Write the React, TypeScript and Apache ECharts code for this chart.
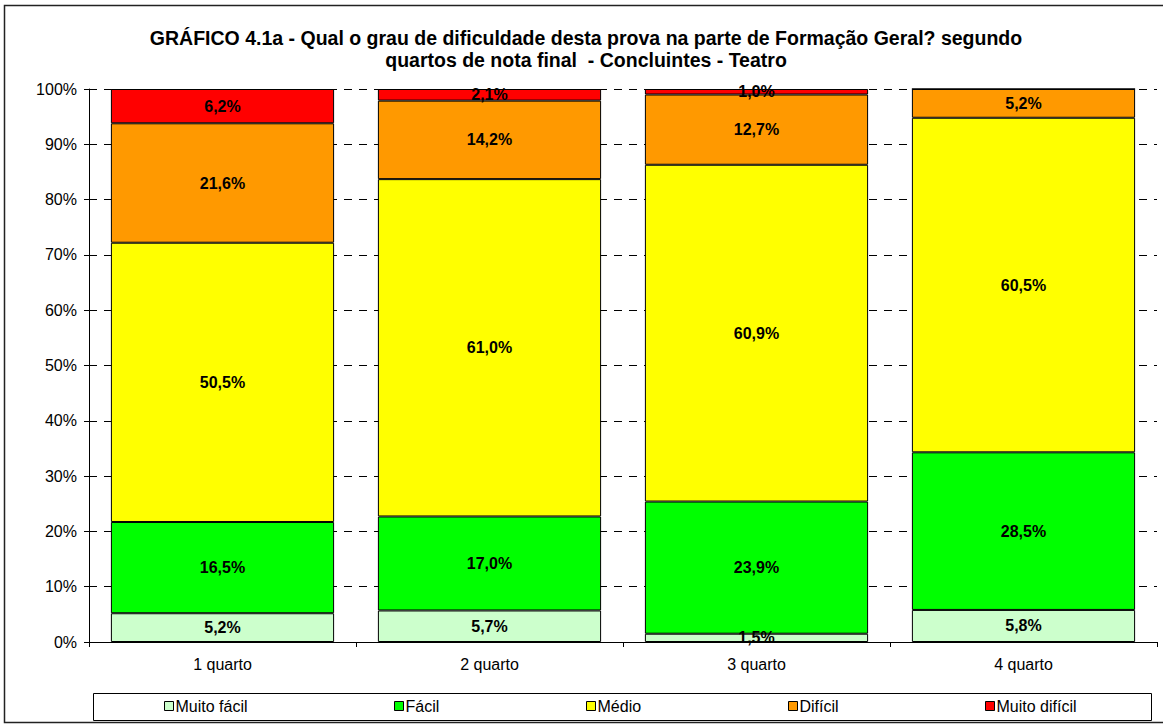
import React, { useEffect, useRef } from "react";
import * as echarts from "echarts";

const categories = ["1 quarto", "2 quarto", "3 quarto", "4 quarto"];
const seriesNames = ["Muito fácil", "Fácil", "Médio", "Difícil", "Muito difícil"];
const muitoFacil = [5.2, 5.7, 1.5, 5.8];
const facil = [16.5, 17.0, 23.9, 28.5];
const medio = [50.5, 61.0, 60.9, 60.5];
const dificil = [21.6, 14.2, 12.7, 5.2];
const muitoDificil = [6.2, 2.1, 1.0, 0];
const yTicks = [0, 10, 20, 30, 40, 50, 60, 70, 80, 90, 100];

const colors = ["#CCFFCC", "#00FF00", "#FFFF00", "#FF9900", "#FF0000"];
const FONT = "'Liberation Sans', Arial, sans-serif";

export default function App() {
  const ref = useRef<HTMLDivElement>(null);
  useEffect(() => {
    if (!ref.current) return;
    const chart = echarts.init(ref.current, null, { renderer: "svg" });
    const values = [muitoFacil, facil, medio, dificil, muitoDificil];
    const legendLefts = [164, 394, 586, 788, 985];
    const option: any = {
      animation: false,
      backgroundColor: "#fff",
      title: {
        text: "GRÁFICO 4.1a - Qual o grau de dificuldade desta prova na parte de Formação Geral? segundo\nquartos de nota final  - Concluintes - Teatro",
        left: 581,
        top: 22,
        textAlign: "center",
        textStyle: { fontFamily: FONT, fontSize: 19.5, fontWeight: "bold", color: "#000", lineHeight: 22 },
      },
      grid: { left: 89, right: 6, top: 89, bottom: 82, containLabel: false },
      legend: seriesNames.map((n, i) => ({
        data: [n],
        left: legendLefts[i],
        top: 698,
        itemWidth: 9,
        itemHeight: 9,
        icon: "rect",
        itemStyle: { borderColor: "#000", borderWidth: 1 },
        textStyle: { fontFamily: FONT, fontSize: 16, color: "#000", padding: [0, 0, 0, -3] },
        selectedMode: false,
        padding: 0,
      })),
      xAxis: {
        type: "category",
        data: categories,
        axisLine: { lineStyle: { color: "#000", width: 1 } },
        axisTick: { show: true, length: 5, lineStyle: { color: "#000" } },
        axisLabel: { fontFamily: FONT, fontSize: 16, color: "#000", margin: 14 },
        splitLine: { show: false },
      },
      yAxis: {
        type: "value",
        min: yTicks[0],
        max: yTicks[yTicks.length - 1],
        interval: 10,
        axisLine: { show: true, lineStyle: { color: "#000", width: 1 } },
        axisTick: { show: true, length: 5, lineStyle: { color: "#000" } },
        axisLabel: { fontFamily: FONT, fontSize: 16, color: "#000", margin: 12, formatter: "{value}%" },
        splitLine: { show: true, lineStyle: { color: "#000", width: 1, type: [8, 7] } },
      },
      series: seriesNames.map((n, i) => ({
        name: n,
        type: "bar",
        stack: "total",
        data: values[i],
        barCategoryGap: "16.4%",
        itemStyle: { color: colors[i], borderColor: "#000", borderWidth: 1 },
        label: {
          show: true,
          position: "inside",
          fontFamily: FONT,
          fontSize: 16,
          fontWeight: "bold",
          color: "#000",
          formatter: (p: any) => (p.value ? p.value.toFixed(1).replace(".", ",") + "%" : ""),
        },
      })),
      graphic: [
        {
          type: "rect",
          shape: { x: 4.5, y: 5.5, width: 1170, height: 717 },
          style: { fill: "none", stroke: "#222", lineWidth: 1.5 },
          silent: true,
          z: -1,
        },
        {
          type: "rect",
          shape: { x: 93.5, y: 693.5, width: 1058, height: 27 },
          style: { fill: "none", stroke: "#000", lineWidth: 1 },
          silent: true,
        },
      ],
    };
    chart.setOption(option);
    return () => chart.dispose();
  }, []);
  return (
    <div
      ref={ref}
      style={{ position: "fixed", left: 0, top: 0, width: 1163, height: 724 }}
    />
  );
}
